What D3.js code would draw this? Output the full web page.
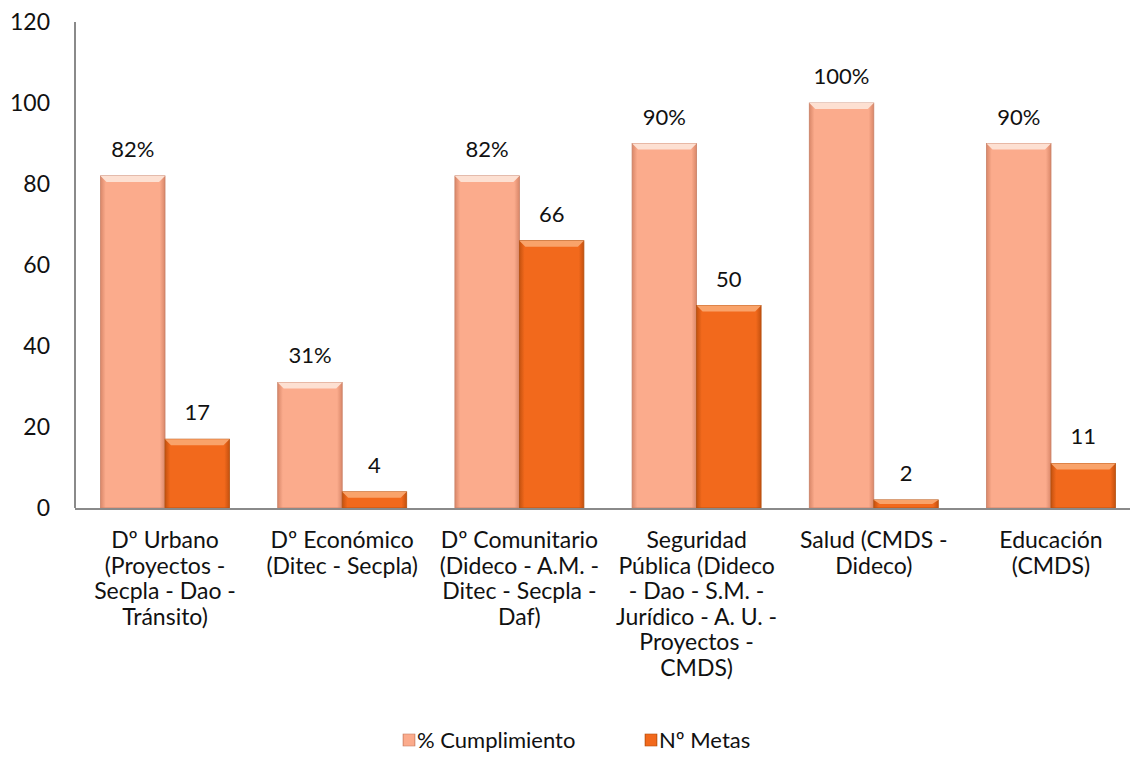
<!DOCTYPE html>
<html>
<head>
<meta charset="utf-8">
<script src="https://cdn.jsdelivr.net/npm/d3@7"></script>
<style>
  body { margin: 0; background: #fff; }
  svg text { font-family: Lato, "Open Sans", sans-serif; fill: #111; }
</style>
</head>
<body>
<svg id="chart" width="1135" height="776"></svg>
<script>
// data
const categories = [
  ["Dº Urbano", "(Proyectos -", "Secpla - Dao -", "Tránsito)"],
  ["Dº Económico", "(Ditec - Secpla)"],
  ["Dº Comunitario", "(Dideco - A.M. -", "Ditec - Secpla -", "Daf)"],
  ["Seguridad", "Pública (Dideco", "- Dao - S.M. -", "Jurídico - A. U. -", "Proyectos -", "CMDS)"],
  ["Salud (CMDS -", "Dideco)"],
  ["Educación", "(CMDS)"]
];
const cumplimiento = [82, 31, 82, 90, 100, 90];
const metas = [17, 4, 66, 50, 2, 11];
const yTicks = [0, 20, 40, 60, 80, 100, 120];
const seriesNames = ["% Cumplimiento", "Nº Metas"];

const svg = d3.select("#chart");
const mLeft = 75, mRight = 1130, mTop = 22, mBottom = 508;

const x = d3.scaleBand().domain(d3.range(categories.length)).range([mLeft, 1141]).paddingInner(0.272).paddingOuter(0.144);
const x1 = d3.scaleBand().domain([0, 1]).range([0, x.bandwidth()]);
const y = d3.scaleLinear().domain([0, 120]).range([mBottom, mTop]);

// gradients for a bevelled look
const defs = svg.append("defs");
function grad(id, edge, mid) {
  const g = defs.append("linearGradient").attr("id", id).attr("x1", 0).attr("x2", 1).attr("y1", 0).attr("y2", 0);
  g.append("stop").attr("offset", "0%").attr("stop-color", edge);
  g.append("stop").attr("offset", "8%").attr("stop-color", mid);
  g.append("stop").attr("offset", "92%").attr("stop-color", mid);
  g.append("stop").attr("offset", "100%").attr("stop-color", edge);
}
grad("g0", "#d98769", "#fbab8c");
grad("g1", "#c4510f", "#f2691c");
const fills = ["url(#g0)", "url(#g1)"];
const tops = ["#fde0d2", "#f9a36a"];
const labelFmt = [v => v + "%", v => String(v)];

// axes
svg.append("line").attr("x1", mLeft).attr("x2", mLeft).attr("y1", mTop).attr("y2", mBottom)
  .attr("stroke", "#8a8a8a").attr("stroke-width", 2);

svg.append("g").selectAll("text").data(yTicks).join("text")
  .attr("x", 50).attr("y", d => y(d)).attr("dy", "0.35em")
  .attr("text-anchor", "end").attr("font-size", 23).text(d => d);

const series = [cumplimiento, metas];
series.forEach((vals, s) => {
  const g = svg.append("g");
  const bx = i => x(i) + x1(s);
  const w = x1.bandwidth();
  g.selectAll("rect.bar").data(vals).join("rect").attr("class", "bar")
    .attr("x", (d, i) => bx(i)).attr("y", d => y(d))
    .attr("width", w).attr("height", d => mBottom - y(d))
    .attr("fill", fills[s]).attr("stroke", s ? "#b5520f" : "#c98066").attr("stroke-width", 0.8);
  // top bevel
  g.selectAll("path.bevel").data(vals).join("path").attr("class", "bevel")
    .attr("d", (d, i) => {
      const x0 = bx(i), y0 = y(d), h = Math.min(6, (mBottom - y0) / 2);
      return `M${x0},${y0}L${x0 + w},${y0}L${x0 + w - 6},${y0 + h}L${x0 + 6},${y0 + h}Z`;
    })
    .attr("fill", tops[s]);
  g.selectAll("text").data(vals).join("text")
    .attr("x", (d, i) => bx(i) + w / 2).attr("y", d => y(d) - 19)
    .attr("text-anchor", "middle").attr("font-size", 22).text(labelFmt[s]);
});

svg.append("line").attr("x1", mLeft).attr("x2", mRight).attr("y1", mBottom + 1).attr("y2", mBottom + 1)
  .attr("stroke", "#8a8a8a").attr("stroke-width", 2);

// category labels
const cat = svg.append("g");
categories.forEach((lines, i) => {
  const t = cat.append("text").attr("x", x(i) + x.bandwidth() / 2).attr("y", 548)
    .attr("text-anchor", "middle").attr("font-size", 23);
  lines.forEach((ln, j) => t.append("tspan").attr("x", x(i) + x.bandwidth() / 2).attr("dy", j ? 25.5 : 0).text(ln));
});

// legend
const legX = [403, 645];
const legend = svg.append("g");
seriesNames.forEach((n, s) => {
  legend.append("rect").attr("x", legX[s]).attr("y", 734).attr("width", 12).attr("height", 12)
    .attr("fill", fills[s]).attr("stroke", s ? "#b5520f" : "#c98066").attr("stroke-width", 0.6);
  legend.append("text").attr("x", legX[s] + 14).attr("y", 748).attr("font-size", 22).text(n);
});
</script>
</body>
</html>
